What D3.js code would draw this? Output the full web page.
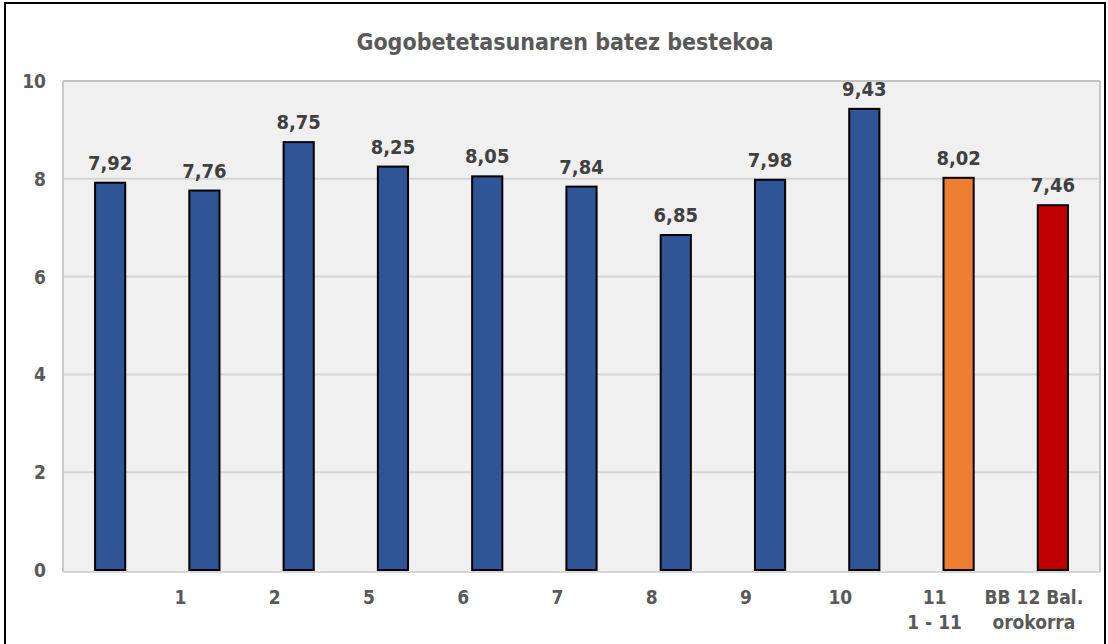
<!DOCTYPE html>
<html>
<head>
<meta charset="utf-8">
<script src="https://cdn.jsdelivr.net/npm/d3@7"></script>
<style>
  html, body { margin: 0; padding: 0; background: #ffffff; }
  svg { display: block; }
  text { font-family: "DejaVu Sans Condensed", "DejaVu Sans", Verdana, sans-serif; font-weight: bold; font-stretch: condensed; }
</style>
</head>
<body>
<svg id="chart" width="1108" height="644"></svg>
<script>
// ---- data ----
const categories = ["", "1", "2", "5", "6", "7", "8", "9", "10", "11|1 - 11", "BB 12 Bal.|orokorra"];
const values = [7.92, 7.76, 8.75, 8.25, 8.05, 7.84, 6.85, 7.98, 9.43, 8.02, 7.46];
const barColors = ["#2F5597", "#2F5597", "#2F5597", "#2F5597", "#2F5597", "#2F5597", "#2F5597", "#2F5597", "#2F5597", "#ED7D31", "#C00000"];
const yTicks = [0, 2, 4, 6, 8, 10];
const title = "Gogobetetasunaren batez bestekoa";

// ---- layout ----
const plot = { left: 63, right: 1100, top: 81, bottom: 571 };

const svg = d3.select("#chart");

// outer frame
svg.append("rect")
  .attr("x", 5).attr("y", 3)
  .attr("width", 1100).attr("height", 660)
  .attr("fill", "#ffffff")
  .attr("stroke", "#000000").attr("stroke-width", 2);

// title
svg.append("text")
  .attr("x", 565).attr("y", 50)
  .attr("text-anchor", "middle")
  .attr("font-size", 23)
  .attr("fill", "#595959")
  .text(title);

const x = d3.scaleBand()
  .domain(categories.map((d, i) => i))
  .range([plot.left, plot.right])
  .padding(0);

const y = d3.scaleLinear()
  .domain([0, 10])
  .range([plot.bottom - 1, plot.top]);

// plot background
svg.append("rect")
  .attr("x", plot.left).attr("y", plot.top)
  .attr("width", plot.right - plot.left)
  .attr("height", plot.bottom - plot.top + 1)
  .attr("fill", "#f0f0f0");

// gridlines
svg.append("g")
  .selectAll("line")
  .data(yTicks.filter(t => t > 0 && t < 10))
  .join("line")
  .attr("x1", plot.left).attr("x2", plot.right)
  .attr("y1", d => y(d)).attr("y2", d => y(d))
  .attr("stroke", "#d6d6d6").attr("stroke-width", 2);

// plot borders
svg.append("line")
  .attr("x1", plot.left).attr("x2", plot.right)
  .attr("y1", plot.top).attr("y2", plot.top)
  .attr("stroke", "#c4c4c4").attr("stroke-width", 2);
svg.append("line")
  .attr("x1", plot.left).attr("x2", plot.left)
  .attr("y1", plot.top).attr("y2", plot.bottom + 1)
  .attr("stroke", "#c8c8c8").attr("stroke-width", 2);
svg.append("line")
  .attr("x1", plot.right).attr("x2", plot.right)
  .attr("y1", plot.top).attr("y2", plot.bottom + 1)
  .attr("stroke", "#c8c8c8").attr("stroke-width", 2);

// bars
const barW = x.bandwidth() * 0.32;
svg.append("g")
  .selectAll("rect")
  .data(values)
  .join("rect")
  .attr("x", (d, i) => x(i) + x.bandwidth() / 2 - barW / 2)
  .attr("y", d => y(d))
  .attr("width", barW)
  .attr("height", d => y(0) - y(d))
  .attr("fill", (d, i) => barColors[i])
  .attr("stroke", "#000000")
  .attr("stroke-width", 2);

// bottom axis line
svg.append("line")
  .attr("x1", plot.left).attr("x2", plot.right)
  .attr("y1", plot.bottom + 1).attr("y2", plot.bottom + 1)
  .attr("stroke", "#d6d6d6").attr("stroke-width", 2);

// value labels
const fmt = d3.format(".2f");
svg.append("g")
  .selectAll("text")
  .data(values)
  .join("text")
  .attr("x", (d, i) => x(i) + x.bandwidth() / 2)
  .attr("y", d => y(d) - 13)
  .attr("text-anchor", "middle")
  .attr("font-size", 20)
  .attr("fill", "#404040")
  .text(d => fmt(d).replace(".", ","));

// y axis labels
svg.append("g")
  .selectAll("text")
  .data(yTicks)
  .join("text")
  .attr("x", 46)
  .attr("y", d => y(d) + 7)
  .attr("text-anchor", "end")
  .attr("font-size", 19)
  .attr("fill", "#595959")
  .text(d => d);

// x axis labels (drawn shifted left of their bars, as in the reference)
const labelShift = -24;
const xl = svg.append("g");
categories.forEach((c, i) => {
  const lines = c.split("|");
  const cx = x(i) + x.bandwidth() / 2 + labelShift + (i === categories.length - 1 ? 5 : 0);
  const t = xl.append("text")
    .attr("x", cx)
    .attr("y", 604)
    .attr("text-anchor", "middle")
    .attr("font-size", 19)
    .attr("fill", "#595959");
  lines.forEach((ln, k) => {
    t.append("tspan")
      .attr("x", cx)
      .attr("dy", k === 0 ? 0 : 25)
      .text(ln);
  });
});
</script>
</body>
</html>
